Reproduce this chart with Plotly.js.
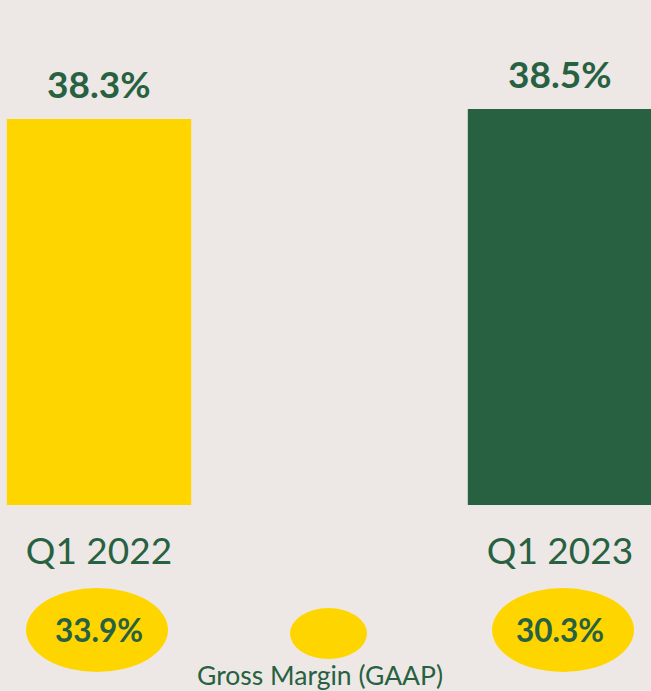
<!DOCTYPE html>
<html>
<head>
<meta charset="utf-8">
<script src="https://cdn.plot.ly/plotly-3.0.1.min.js"></script>
<style>html,body{margin:0;padding:0;background:#EDE8E5;}</style>
</head>
<body>
<div id="chart" style="width:651px;height:691px;"></div>
<script>
const categories = ['Q1 2022', 'Q1 2023'];
const adjustedMargin = [38.3, 38.5];
const gaapMargin = [33.9, 30.3];
const barColors = ['#FFD500', '#276142'];
const legendLabel = 'Gross Margin (GAAP)';

const GREEN = '#276142';
const YELLOW = '#FFD500';
const BG = '#EDE8E5';
const FONT = 'Lato, "Open Sans", sans-serif';

const PLOT_H = 505;
const ellipseY = (505 - 630) / PLOT_H;
const legendMarkY = (505 - 633.5) / PLOT_H;
const legendTextY = (505 - 675) / PLOT_H;

const pct = v => v.toFixed(1) + '%';

const traces = [{
  type: 'bar',
  x: categories,
  y: adjustedMargin,
  width: 0.4,
  marker: {color: barColors, line: {width: 0}},
  hoverinfo: 'none',
  showlegend: false
}];

const annotations = [];
categories.forEach((c, i) => {
  annotations.push({
    x: c, y: adjustedMargin[i], xref: 'x', yref: 'y',
    text: '<b>' + pct(adjustedMargin[i]) + '</b>',
    showarrow: false, xanchor: 'center', yanchor: 'bottom', yshift: 11,
    font: {family: FONT, size: 37, color: GREEN}
  });
  annotations.push({
    x: c, y: ellipseY, xref: 'x', yref: 'paper',
    text: '<b>' + pct(gaapMargin[i]) + '</b>',
    showarrow: false, xanchor: 'center', yanchor: 'middle',
    font: {family: FONT, size: 31.5, color: GREEN}
  });
});
annotations.push({
  x: 320 / 651, y: legendTextY, xref: 'paper', yref: 'paper',
  text: legendLabel, showarrow: false, xanchor: 'center', yanchor: 'middle',
  font: {family: FONT, size: 26.5, color: GREEN}
});

const shapes = categories.map((c, i) => ({
  type: 'circle', xref: 'x', xsizemode: 'pixel', xanchor: c,
  x0: i === 0 ? -73 : -68, x1: i === 0 ? 69 : 74,
  yref: 'paper', ysizemode: 'pixel', yanchor: ellipseY, y0: -42, y1: 42,
  fillcolor: YELLOW, line: {width: 0}
}));
shapes.push({
  type: 'circle', xref: 'paper', xsizemode: 'pixel', xanchor: 328.5 / 651, x0: -38.5, x1: 38.5,
  yref: 'paper', ysizemode: 'pixel', yanchor: legendMarkY, y0: -25.5, y1: 25.5,
  fillcolor: YELLOW, line: {width: 0}
});

const layout = {
  width: 651, height: 691,
  margin: {l: 0, r: 0, t: 0, b: 186, pad: 0},
  paper_bgcolor: BG, plot_bgcolor: BG,
  showlegend: false,
  xaxis: {
    type: 'category', range: [-0.2148, 1.1974],
    showgrid: false, zeroline: false, showline: false, ticks: '',
    tickfont: {family: FONT, size: 37, color: GREEN},
    ticklabelstandoff: 21, fixedrange: true
  },
  yaxis: {range: [30.58, 40.68], visible: false, fixedrange: true},
  annotations: annotations,
  shapes: shapes
};

Plotly.newPlot('chart', traces, layout, {displayModeBar: false, staticPlot: true});
</script>
</body>
</html>
